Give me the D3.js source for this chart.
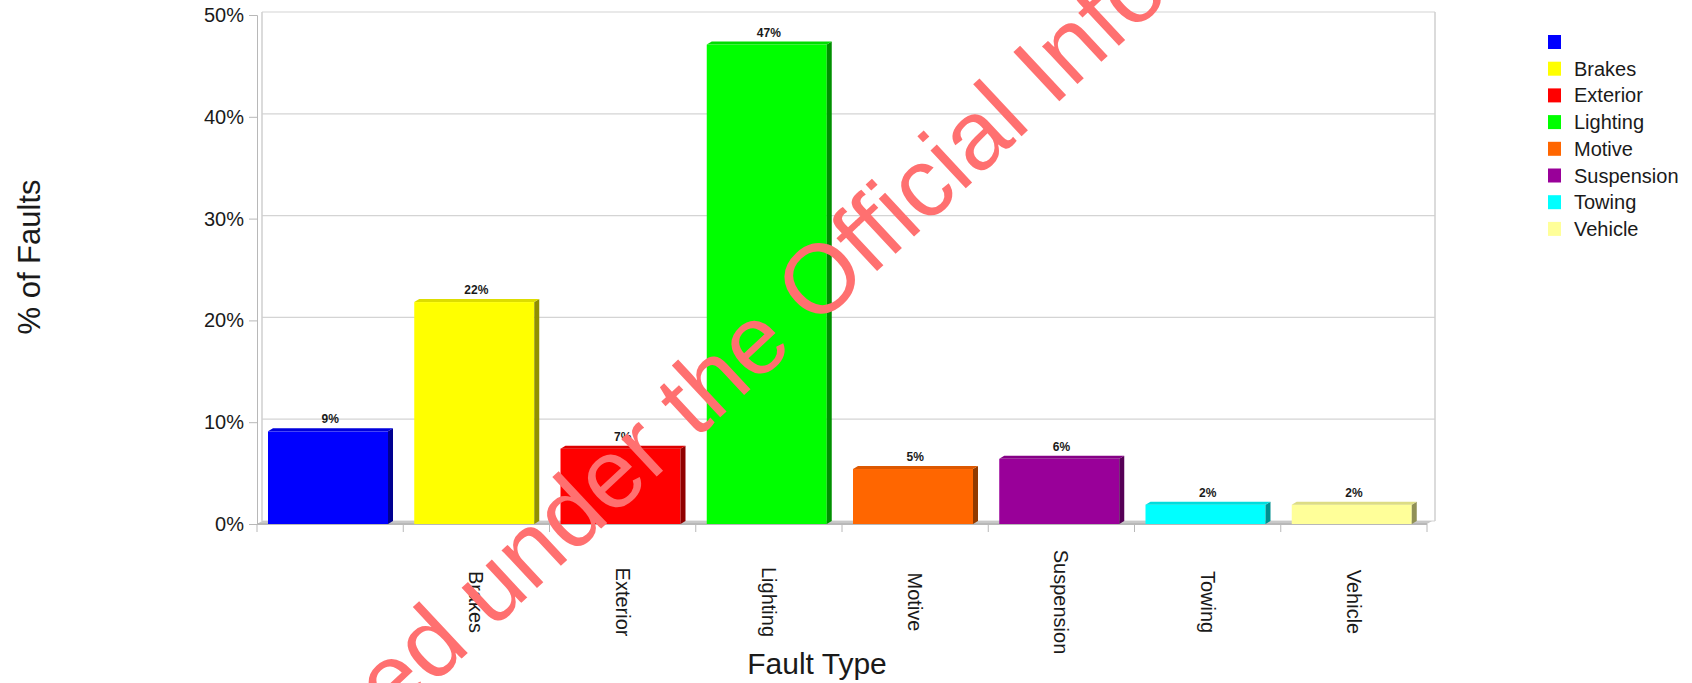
<!DOCTYPE html>
<html><head><meta charset="UTF-8">
<style>
body { margin: 0; background: #fff; }
text { font-family: "Liberation Sans", Arial, sans-serif; fill: #1a1a1a; }
.grid line { stroke: #d4d4d4; stroke-width: 1.2; }
.wall { stroke: #cfcfcf; stroke-width: 1.5; fill: none; }
.axis path, .axis line { stroke: #b8b8b8; }
</style>
<script src="https://cdn.jsdelivr.net/npm/d3@7"></script>
</head><body>
<div id="chart"></div>
<script>
// data
var categories = ["", "Brakes", "Exterior", "Lighting", "Motive", "Suspension", "Towing", "Vehicle"];
var faultPct = [9.1, 21.8, 7.4, 47.1, 5.4, 6.4, 1.9, 1.9];
var barColors = ["#0000ff", "#ffff00", "#ff0000", "#00ff00", "#ff6600", "#990099", "#00ffff", "#ffff99"];
var yTicks = [0, 10, 20, 30, 40, 50];

var W = 1692, H = 683;
var depth = {dx: 5, dy: 3}; // fake 3d offset

var svg = d3.select("#chart").append("svg")
    .attr("width", W).attr("height", H);

svg.append("rect").attr("width", W).attr("height", H).attr("fill", "#fff");

var x = d3.scaleBand().domain(d3.range(categories.length)).range([257, 1427]);
var y = d3.scaleLinear().domain([0, 50]).range([524, 15]);

// back wall + gridlines
var grid = svg.append("g").attr("class", "grid");
grid.selectAll("line").data(yTicks).enter().append("line")
    .attr("x1", 257 + depth.dx).attr("x2", 1435)
    .attr("y1", d => y(d) - depth.dy).attr("y2", d => y(d) - depth.dy);
svg.append("line").attr("class", "wall")
    .attr("x1", 257 + depth.dx).attr("x2", 257 + depth.dx)
    .attr("y1", y(50) - depth.dy).attr("y2", y(0) - depth.dy);
svg.append("line").attr("class", "wall")
    .attr("x1", 1435).attr("x2", 1435)
    .attr("y1", y(50) - depth.dy).attr("y2", y(0) - depth.dy);

// y axis
var yAxis = svg.append("g").attr("class", "axis")
    .attr("transform", "translate(257,0)")
    .call(d3.axisLeft(y).tickValues(yTicks).tickFormat(d => d + "%").tickSize(8).tickPadding(5));
yAxis.selectAll("text").style("font-size", "20px").attr("fill", "#1a1a1a")
    .style("font-family", "'Liberation Sans', Arial, sans-serif");

// floor
svg.append("polygon")
    .attr("points", [[257, y(0)], [257 + depth.dx, y(0) - depth.dy], [1427 + depth.dx, y(0) - depth.dy], [1427, y(0)]].join(" "))
    .attr("fill", "#c8c8c8");

// x axis
var xAxis = svg.append("g").attr("class", "axis")
    .attr("transform", "translate(0," + y(0) + ")");
xAxis.append("line").attr("x1", 257).attr("x2", 1427).attr("stroke", "#b0b0b0").attr("stroke-width", 2);
xAxis.selectAll(".tk").data(d3.range(categories.length + 1)).enter().append("line")
    .attr("x1", d => 257 + d * x.step()).attr("x2", d => 257 + d * x.step())
    .attr("y1", 0).attr("y2", 8).attr("stroke", "#b0b0b0");

// bars
var bw = 120, off = 11;
var bars = svg.append("g").selectAll("g").data(faultPct).enter().append("g");
bars.append("rect")
    .attr("x", (d, i) => x(i) + off).attr("y", d => y(d))
    .attr("width", bw).attr("height", d => y(0) - y(d))
    .attr("fill", (d, i) => barColors[i]);
bars.append("polygon")
    .attr("points", (d, i) => {
        var r = x(i) + off + bw;
        return [[r, y(d)], [r + depth.dx, y(d) - depth.dy], [r + depth.dx, y(0) - depth.dy], [r, y(0)]].join(" ");
    })
    .attr("fill", (d, i) => d3.color(barColors[i]).darker(1.6));
bars.append("polygon")
    .attr("points", (d, i) => {
        var l = x(i) + off;
        return [[l, y(d)], [l + depth.dx, y(d) - depth.dy], [l + bw + depth.dx, y(d) - depth.dy], [l + bw, y(d)]].join(" ");
    })
    .attr("fill", (d, i) => d3.color(barColors[i]).darker(0.4));

// value labels
bars.append("text")
    .attr("x", (d, i) => x(i) + x.bandwidth() / 2)
    .attr("y", d => y(d) - 8)
    .attr("text-anchor", "middle")
    .style("font-size", "12px").style("font-weight", "bold")
    .text(d => Math.round(d) + "%");

// category labels, rotated
svg.append("g").selectAll("text").data(categories).enter().append("text")
    .attr("transform", (d, i) => "translate(" + (x(i) + x.bandwidth() / 2) + ",602) rotate(90)")
    .attr("text-anchor", "middle")
    .attr("dy", "0.35em")
    .style("font-size", "20px")
    .text(d => d);

// axis titles
svg.append("text")
    .attr("transform", "translate(29,257) rotate(-90)")
    .attr("text-anchor", "middle").attr("dy", "0.35em")
    .style("font-size", "31px")
    .text("% of Faults");
svg.append("text")
    .attr("x", 817).attr("y", 674)
    .attr("text-anchor", "middle")
    .style("font-size", "30px")
    .text("Fault Type");

// legend
var leg = svg.append("g").selectAll("g").data(categories).enter().append("g")
    .attr("transform", (d, i) => "translate(1548," + (35 + i * 26.7) + ")");
leg.append("rect").attr("width", 13).attr("height", 14)
    .attr("fill", (d, i) => barColors[i]);
leg.append("text").attr("x", 26).attr("y", 7).attr("dy", "0.35em")
    .style("font-size", "20px")
    .text(d => d);

// watermark
var wm = svg.append("text")
    .style("font-size", "98px")
    .style("fill", "#ff7070")
    .text("Released under the Official Information Act");
var lead = wm.node().getSubStringLength(0, 19);
wm.attr("x", -lead).attr("transform", "translate(815,329) rotate(-43)");
</script>
</body></html>
